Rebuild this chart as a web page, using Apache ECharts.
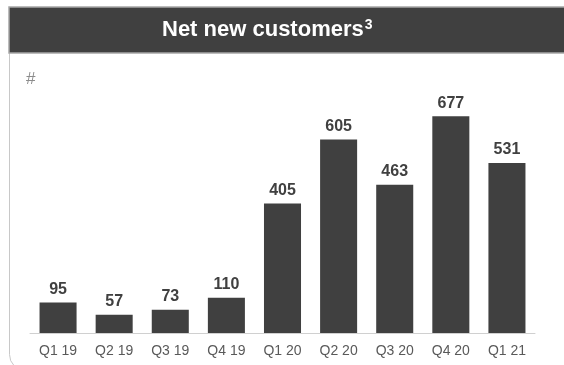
<!DOCTYPE html>
<html>
<head>
<meta charset="utf-8">
<script src="https://cdn.jsdelivr.net/npm/echarts@6/dist/echarts.min.js"></script>
<style>
  html, body { margin: 0; padding: 0; background: #ffffff; }
  #chart { width: 564px; height: 365px; }
</style>
</head>
<body>
<div id="chart"></div>
<script>
// Quarterly net new customers
const quarters = ['Q1 19', 'Q2 19', 'Q3 19', 'Q4 19', 'Q1 20', 'Q2 20', 'Q3 20', 'Q4 20', 'Q1 21'];
const netNewCustomers = [95, 57, 73, 110, 405, 605, 463, 677, 531];

const chart = echarts.init(document.getElementById('chart'), null, { renderer: 'canvas' });

chart.setOption({
  backgroundColor: '#ffffff',
  animation: false,
  textStyle: { fontFamily: 'Liberation Sans, Arial, sans-serif' },
  graphic: [
    {
      // card outline, its lower edge runs just past the bottom of the view
      type: 'rect',
      z: 0,
      shape: { x: 9.5, y: 30.5, width: 620, height: 340, r: 16 },
      style: { fill: '#ffffff', stroke: '#c8c8c8', lineWidth: 1 }
    },
    {
      type: 'rect',
      z: 1,
      shape: { x: 9, y: 7, width: 600, height: 46 },
      style: { fill: '#404040', stroke: '#a6a6a6', lineWidth: 1.5 }
    },
    {
      type: 'text',
      z: 2,
      left: 162,
      top: 18,
      style: {
        text: 'Net new customers{sup|3}',
        fill: '#ffffff',
        font: 'bold 22px "Liberation Sans", Arial, sans-serif',
        rich: {
          sup: {
            fontSize: 14,
            fontWeight: 'bold',
            fill: '#ffffff',
            padding: [0, 0, 10, 1]
          }
        }
      }
    },
    {
      type: 'text',
      z: 2,
      left: 26,
      top: 71,
      style: {
        text: '#',
        fill: '#8c8c8c',
        font: '17px "Liberation Sans", Arial, sans-serif'
      }
    }
  ],
  grid: { left: 30, right: 29, top: 77, bottom: 32 },
  xAxis: {
    type: 'category',
    data: quarters,
    axisLine: { show: true, lineStyle: { color: '#d0d0d0', width: 1 } },
    axisTick: { show: false },
    axisLabel: {
      color: '#595959',
      fontSize: 14,
      margin: 11,
      interval: 0
    }
  },
  yAxis: {
    type: 'value',
    min: 0,
    max: 800,
    show: false,
    splitLine: { show: false }
  },
  series: [
    {
      type: 'bar',
      data: netNewCustomers,
      barCategoryGap: '34%',
      itemStyle: { color: '#404040' },
      label: {
        show: true,
        position: 'top',
        distance: 5,
        color: '#404040',
        fontSize: 16,
        fontWeight: 'bold'
      }
    }
  ]
});
</script>
</body>
</html>
